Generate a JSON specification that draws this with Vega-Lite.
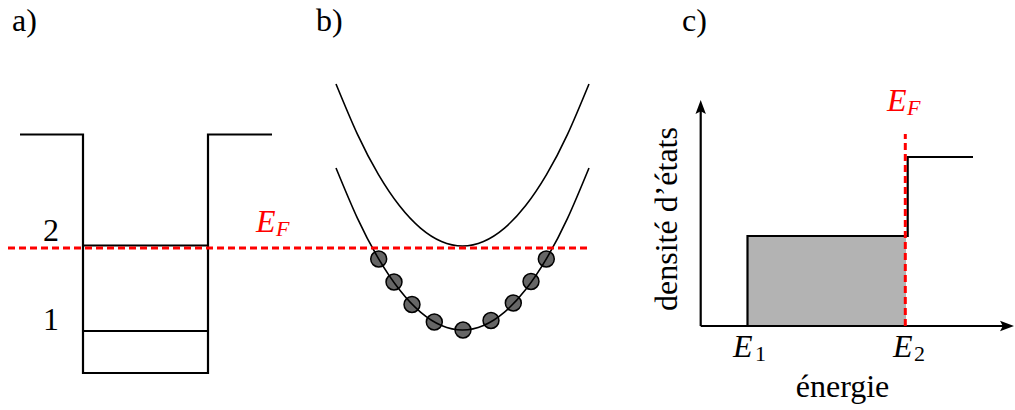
{
  "$schema": "https://vega.github.io/schema/vega-lite/v6.json",
  "width": 1015,
  "height": 410,
  "autosize": {"type": "none"},
  "padding": 0,
  "background": "white",
  "config": {"view": {"stroke": null}, "text": {"font": "Liberation Serif, DejaVu Serif, serif"}},
  "datasets": {
    "black": [
      {"id": "well", "o": 1, "x": 2.0, "y": 27.55},
      {"id": "well", "o": 2, "x": 8.3, "y": 27.55},
      {"id": "well", "o": 3, "x": 8.3, "y": 3.7},
      {"id": "well", "o": 4, "x": 20.8, "y": 3.7},
      {"id": "well", "o": 5, "x": 20.8, "y": 27.55},
      {"id": "well", "o": 6, "x": 27.2, "y": 27.55},
      {"id": "lvl2", "o": 1, "x": 8.3, "y": 16.45},
      {"id": "lvl2", "o": 2, "x": 20.8, "y": 16.45},
      {"id": "lvl1", "o": 1, "x": 8.3, "y": 7.9},
      {"id": "lvl1", "o": 2, "x": 20.8, "y": 7.9},
      {"id": "yaxis", "o": 1, "x": 70.07, "y": 8.4},
      {"id": "yaxis", "o": 2, "x": 70.07, "y": 30.0},
      {"id": "xaxis", "o": 1, "x": 70.07, "y": 8.4},
      {"id": "xaxis", "o": 2, "x": 100.4, "y": 8.4},
      {"id": "dos", "o": 1, "x": 74.75, "y": 8.4},
      {"id": "dos", "o": 2, "x": 74.75, "y": 17.4},
      {"id": "dos", "o": 3, "x": 90.77, "y": 17.4},
      {"id": "dos", "o": 4, "x": 90.77, "y": 25.3},
      {"id": "dos", "o": 5, "x": 97.3, "y": 25.3}
    ],
    "parab": [
      {"id": "upper", "o": 1, "x": 33.6, "y": 32.6},
      {"id": "upper", "o": 2, "x": 35.75, "y": 27.56},
      {"id": "upper", "o": 3, "x": 37.85, "y": 23.54},
      {"id": "upper", "o": 4, "x": 39.95, "y": 20.42},
      {"id": "upper", "o": 5, "x": 42.05, "y": 18.19},
      {"id": "upper", "o": 6, "x": 44.15, "y": 16.85},
      {"id": "upper", "o": 7, "x": 46.25, "y": 16.4},
      {"id": "upper", "o": 8, "x": 48.35, "y": 16.85},
      {"id": "upper", "o": 9, "x": 50.45, "y": 18.19},
      {"id": "upper", "o": 10, "x": 52.55, "y": 20.42},
      {"id": "upper", "o": 11, "x": 54.65, "y": 23.54},
      {"id": "upper", "o": 12, "x": 56.75, "y": 27.56},
      {"id": "upper", "o": 13, "x": 58.9, "y": 32.6},
      {"id": "lower", "o": 1, "x": 33.6, "y": 24.2},
      {"id": "lower", "o": 2, "x": 35.75, "y": 19.16},
      {"id": "lower", "o": 3, "x": 37.85, "y": 15.14},
      {"id": "lower", "o": 4, "x": 39.95, "y": 12.02},
      {"id": "lower", "o": 5, "x": 42.05, "y": 9.79},
      {"id": "lower", "o": 6, "x": 44.15, "y": 8.45},
      {"id": "lower", "o": 7, "x": 46.25, "y": 8.0},
      {"id": "lower", "o": 8, "x": 48.35, "y": 8.45},
      {"id": "lower", "o": 9, "x": 50.45, "y": 9.79},
      {"id": "lower", "o": 10, "x": 52.55, "y": 12.02},
      {"id": "lower", "o": 11, "x": 54.65, "y": 15.14},
      {"id": "lower", "o": 12, "x": 56.75, "y": 19.16},
      {"id": "lower", "o": 13, "x": 58.9, "y": 24.2}
    ],
    "red": [
      {"id": "h", "o": 1, "x": 0.8, "y": 16.2},
      {"id": "h", "o": 2, "x": 58.8, "y": 16.2},
      {"id": "v", "o": 1, "x": 90.53, "y": 8.4},
      {"id": "v", "o": 2, "x": 90.53, "y": 27.6}
    ],
    "fill": [
      {"x": 74.75, "x2": 90.6, "y": 8.4, "y2": 17.4}
    ],
    "dots": [
      {"x": 37.87, "y": 15.1},
      {"x": 39.4, "y": 12.8},
      {"x": 41.2, "y": 10.55},
      {"x": 43.43, "y": 8.8},
      {"x": 46.3, "y": 8.0},
      {"x": 49.1, "y": 8.95},
      {"x": 51.33, "y": 10.7},
      {"x": 53.1, "y": 12.85},
      {"x": 54.63, "y": 15.1}
    ],
    "arrows": [
      {"dir": "up", "x": 70.07, "y": 30.2},
      {"dir": "right", "x": 100.6, "y": 8.4}
    ],
    "panel": [
      {"t": "a)", "x": 1.2, "y": 37.9},
      {"t": "b)", "x": 31.6, "y": 37.9},
      {"t": "c)", "x": 68.2, "y": 37.9}
    ],
    "levels": [
      {"t": "2", "x": 5.1, "y": 16.9},
      {"t": "1", "x": 5.1, "y": 8.0},
      {"t": "énergie", "x": 84.25, "y": 1.3}
    ],
    "ef": [
      {"t": "E", "x": 25.6, "y": 17.8},
      {"t": "E", "x": 88.7, "y": 29.9}
    ],
    "efsub": [
      {"t": "F", "x": 27.6, "y": 17.4},
      {"t": "F", "x": 90.7, "y": 29.5}
    ],
    "ei": [
      {"t": "E", "x": 73.3, "y": 5.3},
      {"t": "E", "x": 89.3, "y": 5.3}
    ],
    "eisub": [
      {"t": "1", "x": 75.5, "y": 4.9},
      {"t": "2", "x": 91.4, "y": 4.9}
    ],
    "ylab": [
      {"t": "densité d’états", "x": 67.7, "y": 19.1}
    ]
  },
  "encoding": {
    "x": {"field": "x", "type": "quantitative", "axis": null, "scale": {"domain": [0, 101.5], "nice": false, "zero": false}},
    "y": {"field": "y", "type": "quantitative", "axis": null, "scale": {"domain": [0, 41], "nice": false, "zero": false}}
  },
  "layer": [
    {
      "data": {"name": "fill"},
      "mark": {"type": "rect", "fill": "#b3b3b3", "stroke": null},
      "encoding": {"x2": {"field": "x2"}, "y2": {"field": "y2"}}
    },
    {
      "data": {"name": "dots"},
      "mark": {"type": "point", "shape": "circle", "filled": true, "fill": "#666666", "stroke": "black", "strokeWidth": 1.5, "opacity": 1, "fillOpacity": 1, "size": 254}
    },
    {
      "data": {"name": "parab"},
      "mark": {"type": "line", "color": "black", "strokeWidth": 1.6, "interpolate": "natural"},
      "encoding": {"detail": {"field": "id"}, "order": {"field": "o", "type": "quantitative"}}
    },
    {
      "data": {"name": "black"},
      "mark": {"type": "line", "color": "black", "strokeWidth": 2.2, "strokeJoin": "miter", "strokeCap": "butt"},
      "encoding": {"detail": {"field": "id"}, "order": {"field": "o", "type": "quantitative"}}
    },
    {
      "data": {"name": "arrows"},
      "mark": {"type": "point", "filled": true, "color": "black", "opacity": 1, "size": 256},
      "encoding": {
        "shape": {"field": "dir", "type": "nominal", "legend": null,
          "scale": {"domain": ["up", "right"], "range": ["M0,-1L0.65,0.75L0,0.4L-0.65,0.75Z", "M1,0L-0.75,0.65L-0.4,0L-0.75,-0.65Z"]}}
      }
    },
    {
      "data": {"name": "red"},
      "mark": {"type": "line", "color": "#ff0000", "strokeWidth": 3, "strokeDash": [7, 4]},
      "encoding": {"detail": {"field": "id"}, "order": {"field": "o", "type": "quantitative"}}
    },
    {
      "data": {"name": "panel"},
      "mark": {"type": "text", "fontSize": 32, "align": "left", "baseline": "alphabetic", "color": "black"},
      "encoding": {"text": {"field": "t"}}
    },
    {
      "data": {"name": "levels"},
      "mark": {"type": "text", "fontSize": 32, "align": "center", "baseline": "alphabetic", "color": "black"},
      "encoding": {"text": {"field": "t"}}
    },
    {
      "data": {"name": "ef"},
      "mark": {"type": "text", "fontStyle": "italic", "fontSize": 32, "align": "left", "baseline": "alphabetic", "color": "#ff0000"},
      "encoding": {"text": {"field": "t"}}
    },
    {
      "data": {"name": "efsub"},
      "mark": {"type": "text", "fontStyle": "italic", "fontSize": 22, "align": "left", "baseline": "alphabetic", "color": "#ff0000"},
      "encoding": {"text": {"field": "t"}}
    },
    {
      "data": {"name": "ei"},
      "mark": {"type": "text", "fontStyle": "italic", "fontSize": 32, "align": "left", "baseline": "alphabetic", "color": "black"},
      "encoding": {"text": {"field": "t"}}
    },
    {
      "data": {"name": "eisub"},
      "mark": {"type": "text", "fontSize": 22, "align": "left", "baseline": "alphabetic", "color": "black"},
      "encoding": {"text": {"field": "t"}}
    },
    {
      "data": {"name": "ylab"},
      "mark": {"type": "text", "fontSize": 32, "align": "center", "baseline": "alphabetic", "angle": 270, "color": "black"},
      "encoding": {"text": {"field": "t"}}
    }
  ]
}
